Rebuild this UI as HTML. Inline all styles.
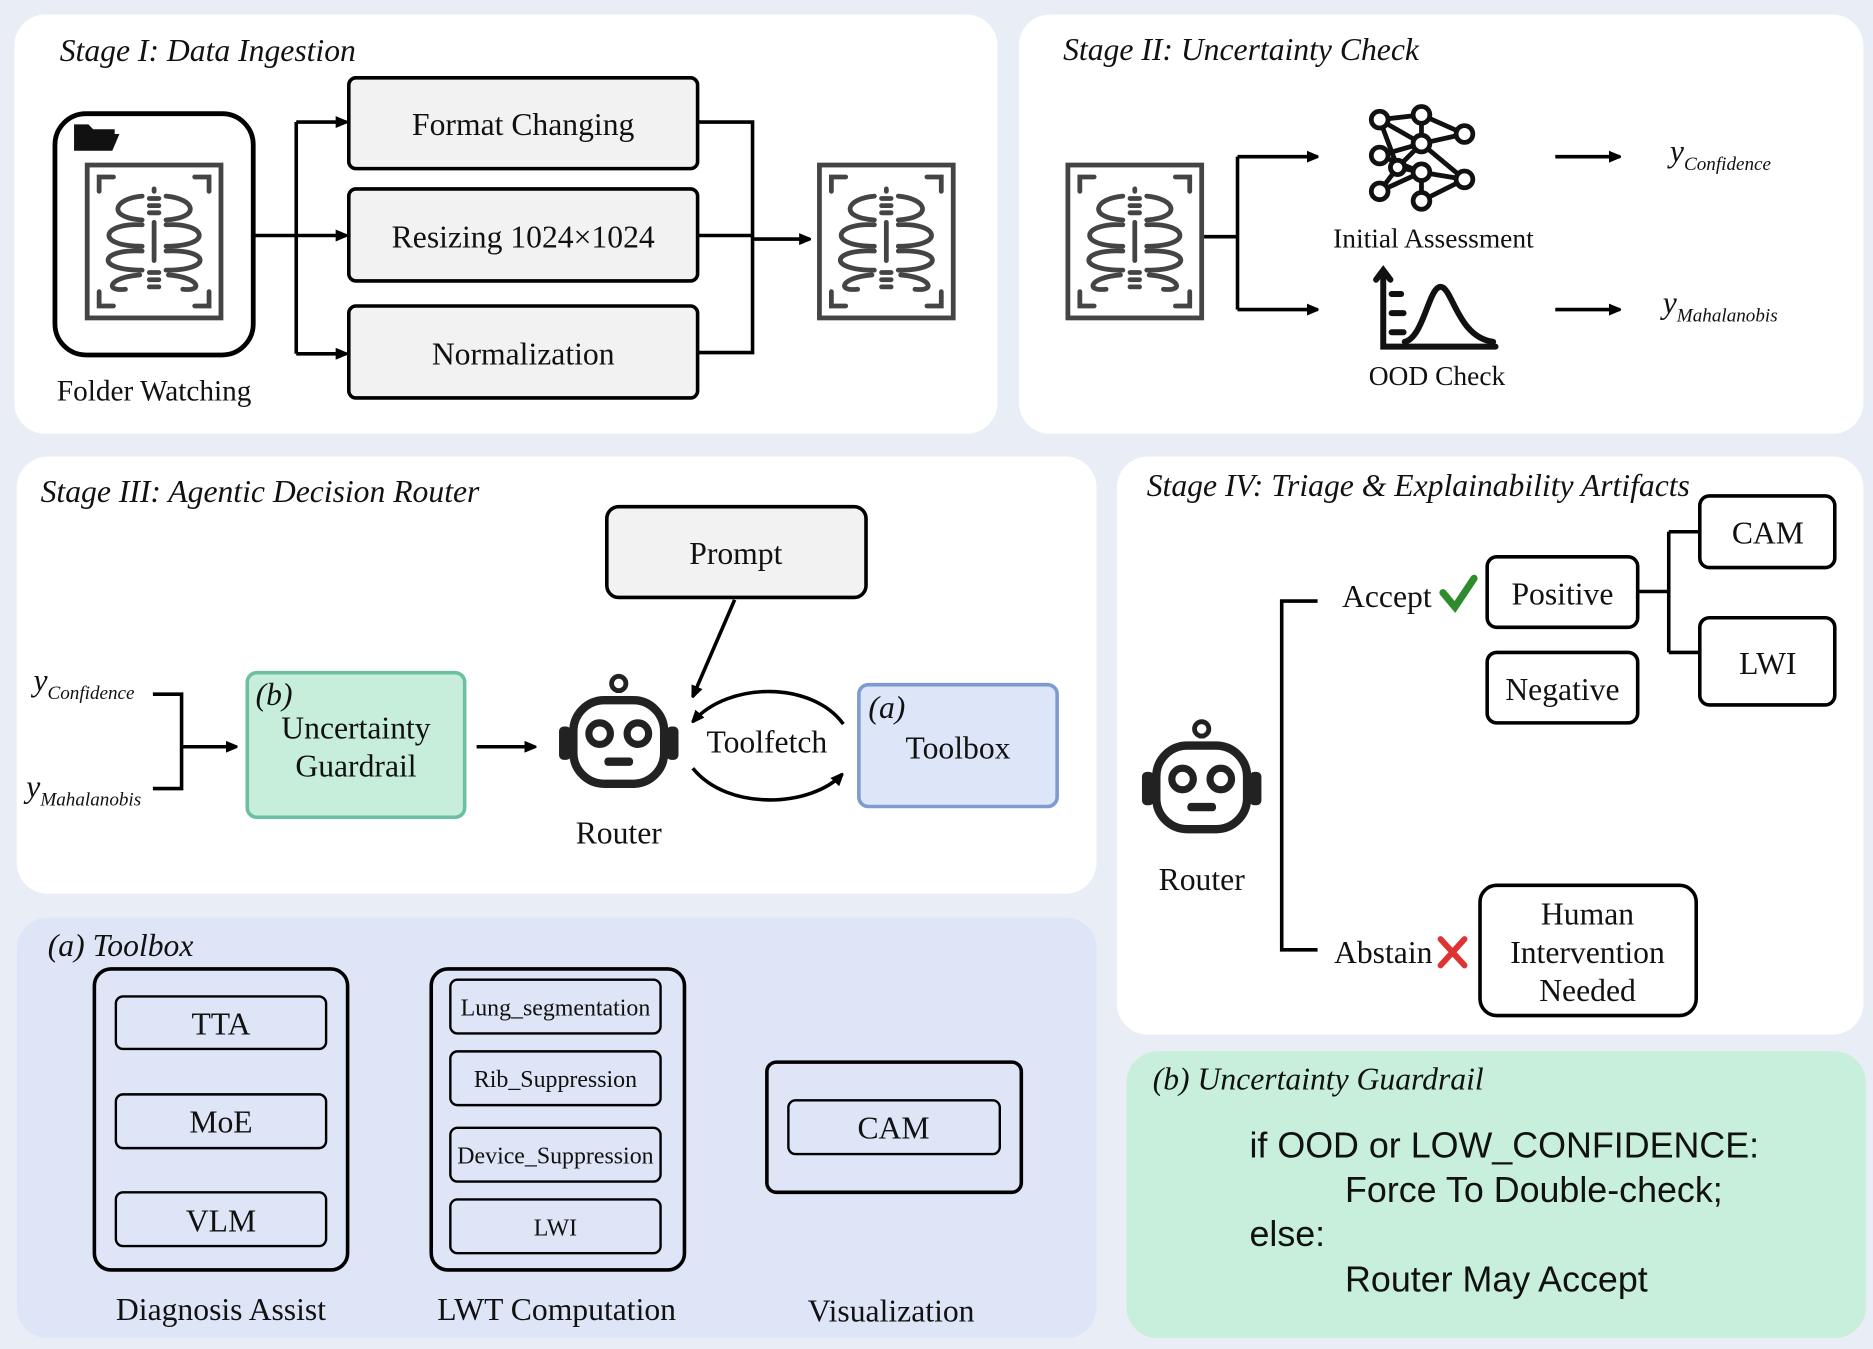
<!DOCTYPE html>
<html><head><meta charset="utf-8"><style>
html,body{margin:0;padding:0;background:#e9edf5;}
svg{display:block;}
text{font-family:"Liberation Serif",serif;fill:#111;}
.t{font-size:26.5px;text-anchor:middle;}
.it{font-style:italic;font-size:26.5px;}
.code{font-family:"Liberation Sans",sans-serif;font-size:30px;}
</style></head><body>
<svg width="1873" height="1349" viewBox="0 0 1568 1129" xmlns="http://www.w3.org/2000/svg">
<defs>
<marker id="ar" markerWidth="10" markerHeight="10" refX="9" refY="5" orient="auto" markerUnits="userSpaceOnUse"><path d="M0,0 L12,5 L0,10 z" fill="#000"/></marker>
<g id="xray">
<rect x="2" y="2" width="112" height="128" fill="#fff" stroke="#444" stroke-width="4"/>
<g fill="none" stroke="#444" stroke-width="4" stroke-linecap="round">
<path d="M12,24 V12 H24 M92,12 H104 V24 M12,108 V120 H24 M92,120 H104 V108"/>
<path d="M58,22 v2 M54,30 h8 M54,36 h8 M54,42 h8 M58,50 v32 M54,92 h8 M54,98 h8 M54,104 h8"/>
<path d="M48,28 C24,30 18,46 48,48 M68,28 C92,30 98,46 68,48"/>
<path d="M48,52 C14,50 8,70 48,70 M68,52 C102,50 108,70 68,70"/>
<path d="M48,74 C12,72 8,90 48,90 M68,74 C104,72 108,90 68,90"/>
<path d="M46,94 C20,96 16,108 34,106 M70,94 C96,96 100,108 82,106"/>
</g>
</g>
<g id="robot">
<path d="M50,0 v14" stroke="#222" stroke-width="5"/><circle cx="50" cy="6" r="6" fill="#fff" stroke="#222" stroke-width="4"/>
<rect x="12" y="20" width="76" height="70" rx="26" fill="#fff" stroke="#222" stroke-width="7"/>
<rect x="0" y="42" width="10" height="28" rx="4" fill="#222"/><rect x="90" y="42" width="10" height="28" rx="4" fill="#222"/>
<circle cx="34" cy="48" r="9" fill="#fff" stroke="#222" stroke-width="6"/><circle cx="66" cy="48" r="9" fill="#fff" stroke="#222" stroke-width="6"/>
<rect x="38" y="68" width="24" height="7" rx="3" fill="#222"/>
</g>
</defs>
<rect x="12" y="12" width="823" height="351" rx="26" fill="#fff"/>
<rect x="853" y="12" width="707" height="351" rx="26" fill="#fff"/>
<rect x="14" y="382" width="904" height="366" rx="26" fill="#fff"/>
<rect x="935" y="382" width="625" height="484" rx="26" fill="#fff"/>
<rect x="14" y="768" width="904" height="352" rx="26" fill="#dde5f6"/>
<rect x="943" y="880" width="619" height="240" rx="26" fill="#c7efdc"/>

<text x="50" y="51" class="it">Stage I: Data Ingestion</text>
<rect x="46" y="95" width="166" height="202" rx="26" fill="#fff" stroke="#000" stroke-width="4"/>
<path d="M62,126 L62,104 h12 l4,4 h18 v6 h-26 z" fill="#111"/><path d="M62,126 L68,112 h32 l-6,14 z" fill="#111"/>
<use href="#xray" x="71" y="136"/>
<text x="129" y="335" class="t" style="font-size:24.5px">Folder Watching</text>
<g fill="#f2f2f2" stroke="#000" stroke-width="3">
<rect x="292" y="65" width="292" height="76" rx="6"/>
<rect x="292" y="158" width="292" height="77" rx="6"/>
<rect x="292" y="256" width="292" height="77" rx="6"/>
</g>
<text x="438" y="113" class="t">Format Changing</text>
<text x="438" y="207" class="t">Resizing 1024×1024</text>
<text x="438" y="305" class="t">Normalization</text>
<g stroke="#000" stroke-width="3" fill="none">
<path d="M212,197 H290" marker-end="url(#ar)"/>
<path d="M248,102 V296"/>
<path d="M248,102 H290" marker-end="url(#ar)"/>
<path d="M248,296 H290" marker-end="url(#ar)"/>
<path d="M584,102 H630 V295 H584 M584,197 H630"/>
<path d="M630,200 H678" marker-end="url(#ar)"/>
</g>
<use href="#xray" x="684" y="136"/>

<text x="890" y="50" class="it">Stage II: Uncertainty Check</text>
<use href="#xray" x="892" y="136"/>
<g stroke="#000" stroke-width="3" fill="none">
<path d="M1008,198 H1036 M1036,131 V259"/>
<path d="M1036,131 H1103" marker-end="url(#ar)"/>
<path d="M1036,259 H1103" marker-end="url(#ar)"/>
<path d="M1302,131 H1356" marker-end="url(#ar)"/>
<path d="M1302,259 H1356" marker-end="url(#ar)"/>
</g>
<g stroke="#111" stroke-width="4">
<path d="M1155,100 L1190,96 M1155,100 L1190,120 M1155,100 L1170,140 M1190,96 L1226,112 M1190,96 L1190,120 M1190,120 L1226,112 M1190,120 L1226,150 M1155,160 L1190,144 M1155,160 L1170,140 M1170,140 L1190,120 M1170,140 L1190,144 M1190,144 L1226,150 M1190,144 L1190,168 M1190,168 L1226,150 M1155,130 L1190,144 M1155,130 L1190,120"/>
</g>
<g fill="#fff" stroke="#111" stroke-width="4">
<circle cx="1155" cy="100" r="7"/><circle cx="1155" cy="130" r="7"/><circle cx="1155" cy="160" r="7"/>
<circle cx="1190" cy="96" r="7"/><circle cx="1190" cy="120" r="7"/><circle cx="1190" cy="144" r="7"/><circle cx="1190" cy="168" r="7"/>
<circle cx="1226" cy="112" r="7"/><circle cx="1226" cy="150" r="7"/><circle cx="1170" cy="140" r="6"/>
</g>
<text x="1200" y="207" class="t" style="font-size:23px">Initial Assessment</text>
<g stroke="#111" stroke-width="5" fill="none" stroke-linecap="round">
<path d="M1158,228 V290 H1252"/><path d="M1152,234 L1158,226 L1164,234"/>
<path d="M1165,262 h10 M1165,278 h10 M1165,246 h8"/>
<path d="M1176,286 C1192,282 1196,240 1206,240 C1216,240 1220,282 1250,286"/>
</g>
<text x="1203" y="322" class="t" style="font-size:23px">OOD Check</text>
<text x="1398" y="135" class="it">y<tspan dy="7" style="font-size:16px">Confidence</tspan></text>
<text x="1392" y="262" class="it">y<tspan dy="7" style="font-size:16px">Mahalanobis</tspan></text>

<text x="34" y="420" class="it">Stage III: Agentic Decision Router</text>
<rect x="508" y="424" width="217" height="76" rx="10" fill="#f2f2f2" stroke="#000" stroke-width="3"/>
<text x="616" y="472" class="t">Prompt</text>
<path d="M615,502 L580,583" stroke="#000" stroke-width="3" marker-end="url(#ar)"/>
<text x="28" y="578" class="it">y<tspan dy="7" style="font-size:16px">Confidence</tspan></text>
<text x="22" y="667" class="it">y<tspan dy="7" style="font-size:16px">Mahalanobis</tspan></text>
<g stroke="#000" stroke-width="3" fill="none">
<path d="M128,581 H152 V660 H128"/>
<path d="M152,625 H198" marker-end="url(#ar)"/>
<path d="M399,625 H448" marker-end="url(#ar)"/>
<path d="M706,606 C680,570 610,570 580,604" marker-end="url(#ar)"/>
<path d="M580,643 C610,680 680,675 705,648" marker-end="url(#ar)"/>
</g>
<rect x="207" y="563" width="182" height="121" rx="8" fill="#c6eedb" stroke="#6cc0a0" stroke-width="3"/>
<text x="214" y="590" class="it">(b)</text>
<text x="298" y="618" class="t">Uncertainty</text>
<text x="298" y="650" class="t">Guardrail</text>
<use href="#robot" x="468" y="566"/>
<text x="518" y="706" class="t">Router</text>
<text x="642" y="630" class="t">Toolfetch</text>
<rect x="719" y="573" width="166" height="102" rx="8" fill="#dce6f8" stroke="#7d9bd0" stroke-width="3"/>
<text x="727" y="601" class="it">(a)</text>
<text x="802" y="635" class="t">Toolbox</text>

<text x="960" y="415" class="it">Stage IV: Triage &amp; Explainability Artifacts</text>
<use href="#robot" x="956" y="604"/>
<text x="1006" y="745" class="t">Router</text>
<path d="M1103,503 H1073 V795 H1103" stroke="#000" stroke-width="3" fill="none"/>
<text x="1161" y="508" class="t">Accept</text>
<path d="M1208,496 L1218,508 L1234,484" stroke="#2e8b2e" stroke-width="6" fill="none" stroke-linecap="round"/>
<text x="1158" y="806" class="t">Abstain</text>
<path d="M1206,786 L1226,808 M1226,786 L1206,808" stroke="#d33" stroke-width="5" stroke-linecap="round"/>
<g fill="#fff" stroke="#000" stroke-width="3">
<rect x="1245" y="466" width="126" height="59" rx="8"/>
<rect x="1245" y="546" width="126" height="59" rx="8"/>
<rect x="1423" y="415" width="113" height="60" rx="8"/>
<rect x="1423" y="517" width="113" height="73" rx="8"/>
<rect x="1239" y="741" width="181" height="109" rx="14"/>
</g>
<path d="M1371,495 H1397 M1397,445 V546 M1397,445 H1423 M1397,546 H1423" stroke="#000" stroke-width="3" fill="none"/>
<text x="1308" y="506" class="t">Positive</text>
<text x="1308" y="586" class="t">Negative</text>
<text x="1480" y="455" class="t">CAM</text>
<text x="1480" y="564" class="t">LWI</text>
<text x="1329" y="774" class="t">Human</text>
<text x="1329" y="806" class="t">Intervention</text>
<text x="1329" y="838" class="t">Needed</text>

<text x="40" y="800" class="it">(a) Toolbox</text>
<g fill="none" stroke="#000" stroke-width="3">
<rect x="79" y="811" width="212" height="252" rx="14"/>
<rect x="361" y="811" width="212" height="252" rx="14"/>
<rect x="642" y="889" width="213" height="109" rx="8"/>
</g>
<g fill="none" stroke="#000" stroke-width="2">
<rect x="97" y="834" width="176" height="44" rx="6"/>
<rect x="97" y="916" width="176" height="45" rx="6"/>
<rect x="97" y="998" width="176" height="45" rx="6"/>
<rect x="377" y="820" width="176" height="45" rx="6"/>
<rect x="377" y="880" width="176" height="45" rx="6"/>
<rect x="377" y="944" width="176" height="45" rx="6"/>
<rect x="377" y="1004" width="176" height="45" rx="6"/>
<rect x="660" y="921" width="177" height="45" rx="6"/>
</g>
<text x="185" y="866" class="t">TTA</text>
<text x="185" y="948" class="t">MoE</text>
<text x="185" y="1031" class="t">VLM</text>
<text x="465" y="850" class="t" style="font-size:20px">Lung_segmentation</text>
<text x="465" y="910" class="t" style="font-size:20px">Rib_Suppression</text>
<text x="465" y="974" class="t" style="font-size:20px">Device_Suppression</text>
<text x="465" y="1034" class="t" style="font-size:20px">LWI</text>
<text x="748" y="953" class="t">CAM</text>
<text x="185" y="1105" class="t">Diagnosis Assist</text>
<text x="466" y="1105" class="t">LWT Computation</text>
<text x="746" y="1106" class="t">Visualization</text>

<text x="965" y="912" class="it">(b) Uncertainty Guardrail</text>
<text x="1046" y="969" class="code">if OOD or LOW_CONFIDENCE:</text>
<text x="1126" y="1006" class="code">Force To Double-check;</text>
<text x="1046" y="1043" class="code">else:</text>
<text x="1126" y="1081" class="code">Router May Accept</text>
</svg>
</body></html>
